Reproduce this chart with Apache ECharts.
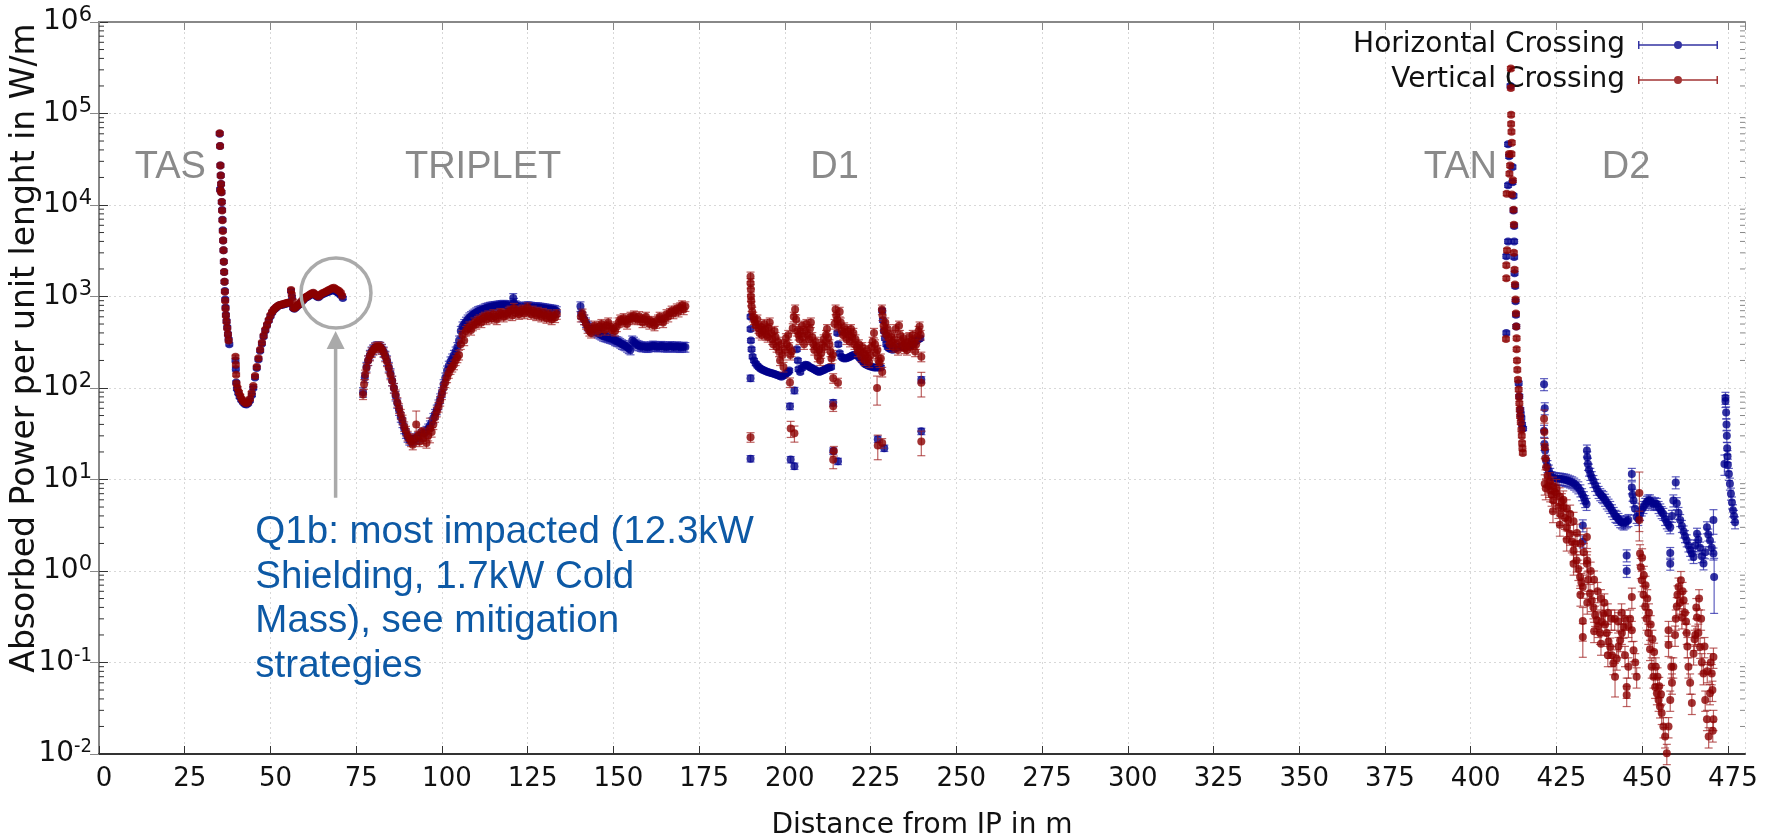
<!DOCTYPE html>
<html>
<head>
<meta charset="utf-8">
<title>Absorbed power per unit length</title>
<script src="https://cdn.jsdelivr.net/npm/echarts@6/dist/echarts.min.js"></script>
<style>
  html, body { margin: 0; padding: 0; background: #fff; }
  #main { width: 1775px; height: 839px; }
</style>
</head>
<body>
<div id="main"></div>
<script>
// ---- data: [distance m, W/m, (optional) relative error] ----

// Horizontal crossing
var hTas = [[35.2,60000],[35.3,44000],[35.4,27000],[35.5,21000],[35.6,17000],[35.3,14800],[35.7,13800],[35.8,10800],[35.9,8800],[36.0,6900],[36.1,5300],[36.2,4100],[36.3,3200],[36.4,2400],[36.5,1850],[36.6,1450],[36.7,1150],[36.8,930],[36.9,760],[37.0,630],[37.2,540],[37.4,460],[37.6,390],[37.8,340],[38.0,300]];
var hQ1 = [[39.8,200],[39.9,160],[40.0,115],[40.2,98],[40.6,88],[41.0,80],[41.5,74],[42.0,70],[42.5,67],[43.0,66],[43.5,68],[44.0,73],[44.6,84],[45.0,100],[45.5,130],[46.0,165],[46.5,205],[47.0,255],[47.5,305],[48.0,365],[48.5,425],[49.0,485],[49.5,545],[50.0,610],[50.5,670],[51.0,715],[51.5,745],[52.0,775],[52.5,795],[53.0,805],[53.5,815],[54.0,825],[54.5,835],[55.0,845],[55.5,855],[56.0,1150],[56.3,980],[56.6,750],[57.0,735],[57.5,765],[58.0,795],[58.5,825],[59.0,870],[59.5,910],[60.0,950],[60.5,980],[61.0,1000],[61.5,1030],[62.0,1060],[62.5,1080],[63.0,1040],[63.5,1000],[64.0,980],[64.5,1020],[65.0,1050],[65.5,1070],[66.0,1090],[66.5,1110],[67.0,1130],[67.5,1150],[68.0,1170],[68.5,1180],[69.0,1140],[69.5,1110],[70.0,1080],[70.5,1030],[71.1,960]];
var hTriplet = [[77.0,90],[77.5,130],[78.0,170],[78.5,200],[79.0,230],[79.5,250],[80.0,265],[80.5,278],[81.0,285],[81.5,286],[82.0,282],[82.5,268],[83.0,250],[83.5,225],[84.0,200],[84.5,170],[85.0,145],[85.5,120],[86.0,100],[86.5,82],[87.0,68],[87.5,57],[88.0,48],[88.5,42],[89.0,36],[89.5,32],[90.0,29],[90.5,27],[91.0,27],[91.5,27],[92.0,28],[92.5,28],[93.0,29],[93.5,30],[94.0,31],[94.5,32],[95.0,33],[95.5,34],[96.0,36],[96.5,39],[97.0,42],[97.5,47],[98.0,52],[98.5,58],[99.0,66],[99.5,77],[100.0,90],[100.5,110],[101.0,130],[101.5,155],[102.0,175],[102.5,195],[103.0,210],[103.5,230],[104.0,250],[104.5,280],[105.0,330],[105.5,420],[106.0,470],[106.5,500],[107.0,530],[107.5,560],[108.0,590],[108.5,610],[109.0,630],[109.5,650],[110.0,670],[110.5,690],[111.0,700],[111.5,710],[112.0,720],[112.5,740],[113.0,750],[113.5,760],[114.0,770],[114.5,775],[115.0,780],[115.5,785],[116.0,790],[116.5,795],[117.0,800],[117.5,805],[118.0,810],[118.5,805],[119.0,800],[119.5,795],[120.0,790],[120.8,960],[121.0,850],[121.5,800],[122.0,780],[122.5,770],[123.0,760],[123.5,765],[124.0,770],[124.5,775],[125.0,780],[125.5,775],[126.0,770],[126.5,765],[127.0,760],[127.5,760],[128.0,760],[128.5,755],[129.0,750],[129.5,745],[130.0,740],[130.5,735],[131.0,730],[131.5,725],[132.0,720],[132.5,715],[133.0,710],[133.5,690]];
var hMid = [[140.4,780],[140.6,650],[141.0,600],[141.5,560],[142.0,520],[142.5,480],[143.0,460],[143.5,440],[144.0,430],[144.5,420],[145.0,410],[145.5,400],[146.0,390],[146.5,380],[147.0,370],[147.5,365],[148.0,360],[148.5,355],[149.0,350],[149.5,345],[150.0,340],[150.5,330],[151.0,325],[151.5,320],[152.0,310],[152.5,300],[153.0,295],[153.5,290],[154.0,280],[154.5,270],[155.0,262],[155.5,330],[156.0,320],[156.5,305],[157.0,295],[157.5,290],[158.0,285],[158.5,282],[159.0,285],[159.5,280],[160.0,278],[160.5,282],[161.0,285],[161.5,290],[162.0,288],[162.5,285],[163.0,282],[163.5,285],[164.0,288],[164.5,285],[165.0,282],[165.5,280],[166.0,283],[166.5,286],[167.0,284],[167.5,280],[168.0,282],[168.5,285],[169.0,282],[169.5,278],[170.0,280],[170.5,283],[171.0,280]];
var hD1 = [[190.0,600],[190.0,440],[190.1,330],[190.3,265],[190.6,220],[191.0,200],[191.5,185],[192.0,175],[192.5,168],[193.0,162],[193.5,158],[194.0,155],[194.5,152],[195.0,150],[195.5,148],[196.0,146],[196.5,144],[197.0,142],[197.5,140],[198.0,138],[198.5,135],[199.0,133],[199.5,136],[200.0,140],[200.5,145],[201.0,150],[201.3,155],[203.5,265],[203.8,200],[204.0,160],[204.5,150],[205.0,165],[205.5,175],[206.0,180],[206.5,178],[207.0,172],[207.5,168],[208.0,164],[208.5,160],[209.0,156],[209.5,152],[210.0,150],[210.5,152],[211.0,155],[211.5,158],[212.0,162],[212.5,165],[213.0,168],[213.5,170],[215.3,400],[215.6,300],[216.0,240],[216.5,220],[217.0,212],[217.5,210],[218.0,212],[218.5,215],[219.0,220],[219.5,225],[220.0,230],[220.5,232],[221.0,230],[221.5,220],[222.0,210],[222.5,200],[223.0,190],[223.5,182],[224.0,178],[224.5,174],[225.0,172],[225.5,170],[226.0,168],[226.5,168],[227.0,167],[227.5,168],[228.0,168],[228.4,700],[228.6,550],[228.9,420],[229.2,350],[229.6,300],[230.0,280],[230.5,270],[231.0,265],[231.5,262],[232.0,268],[232.5,275],[233.0,280],[233.5,285],[234.0,282],[234.5,280],[235.0,285],[235.5,290],[236.0,285],[236.5,290],[237.0,300],[237.5,310],[238.0,320],[238.5,330],[239.0,340],[239.5,350]];
var hD1Out = [[190.0,128],[190.0,16.9],[201.5,63],[201.7,16.5],[202.8,94],[202.8,14],[214.1,69],[214.1,20.5],[215.5,15.8],[227.1,27.6],[229.0,22],[239.8,123],[239.8,33.6]];
var hTan = [[411.6,200000],[410.9,46000],[411.2,34000],[412.2,26000],[412.2,17700],[410.9,16400],[412.5,12600],[412.5,8700],[412.7,5900],[410.9,4000],[412.7,4000],[410.4,2750],[412.7,2700],[412.8,1800],[413.0,1300],[413.1,890],[413.2,630],[413.3,470],[410.4,400],[414.0,113],[414.2,81],[414.5,58],[414.6,52],[414.8,47],[415.0,40],[415.3,36]];
var hD2 = [[421.4,110],[421.6,60],[421.4,34],[421.5,24.5],[421.7,20.7],[422.0,16],[422.4,14],[422.8,12.5],[423.2,11.5],[423.6,10.6],[424.2,10.4],[424.8,10.3],[425.4,10.2],[426.0,10.2],[426.6,10.1],[427.2,10.0],[427.8,9.9],[428.4,9.7],[429.0,9.5],[429.6,9.3],[430.2,9.0],[430.8,8.6],[431.4,8.2],[432.0,7.6],[432.5,6.9],[433.0,6.4],[433.4,5.8],[433.8,5.4],
  [433.9,20.7],[434.0,17.5],[434.2,14.8],[434.5,12.8],[434.9,11.5],[435.3,10.6],[435.8,9.6],[436.3,8.7],[436.8,7.9],[437.3,7.3],[437.8,6.9],[438.3,6.6],[438.7,6.4],[439.2,6.0],[439.7,5.6],[440.2,5.3],[440.7,5.0],[441.2,4.6],[441.7,4.3],[442.2,4.0],[442.6,3.9],[443.1,3.7],[443.6,3.5],[444.1,3.4],[444.6,3.3],[445.1,3.4],[445.6,3.5],[446.0,3.6],
  [447.0,11.5],[447.0,8.2],[447.2,6.8],[447.5,5.9],[447.9,4.8],[448.4,3.9],[448.9,3.7],[449.4,4.2],[449.9,4.7],[450.4,5.0],[450.9,5.4],[451.4,5.7],[451.8,5.9],[452.3,5.9],[452.8,5.6],[453.3,5.4],[453.8,5.5],[454.3,5.4],[454.8,5.0],[455.3,4.7],[455.7,4.4],[456.2,4.2],[456.7,3.7],[457.2,3.4],[457.7,3.2],[458.2,3.0],[458.7,4.0],[459.1,5.9],[459.8,9.3],[460.1,5.5],[460.6,4.3],[461.1,3.6],[461.6,3.1],[462.1,2.7],[462.5,2.4],[463.0,2.16],[463.5,1.9],[464.0,1.7],[464.5,1.55],[465.0,1.42],[465.5,1.9],[466.0,2.55],[466.4,2.2],[466.9,1.8],[467.4,1.45],[467.9,1.21],[468.4,1.6],[468.9,3.0],[469.3,2.5],[469.8,2.16],[470.3,1.8],[470.8,1.55],[470.8,3.6,0.3],[471.0,0.86,0.6],
  [474.3,78],[474.3,72],[474.5,54],[474.6,40],[474.7,30],[474.8,22],[474.9,18],[474.0,14.8,0.25],[475.0,14.5],[475.3,11.5],[475.6,9],[475.9,7],[476.2,5.6],[476.5,4.6],[476.8,4.0],[477.1,3.4]];
var hD2Out = [[432.7,3.15],[432.7,2.1],[445.5,1.48],[445.5,1.0],[458.2,1.57],[458.2,1.2]];

// Vertical crossing
var vTas = [[35.2,61000],[35.3,44000],[35.4,27000],[35.5,21000],[35.6,17000],[35.4,14500],[35.7,13800],[35.8,10800],[35.9,8700],[36.0,6800],[36.1,5200],[36.2,4100],[36.3,3200],[36.4,2400],[36.5,1850],[36.6,1450],[36.7,1130],[36.8,900],[36.9,740],[37.0,620],[37.2,530],[37.4,450],[37.6,385],[37.8,330]];
var vQ1 = [[39.8,220],[39.9,180],[40.0,140],[40.1,112],[40.4,100],[40.8,90],[41.2,82],[41.6,76],[42.0,72],[42.5,69],[43.0,68],[43.5,70],[44.0,76],[44.5,88],[45.0,105],[45.5,135],[46.0,170],[46.5,212],[47.0,262],[47.5,312],[48.0,372],[48.5,432],[49.0,492],[49.5,552],[50.0,622],[50.5,680],[51.0,722],[51.5,752],[52.0,782],[52.5,800],[53.0,812],[53.5,822],[54.0,832],[54.5,842],[55.0,852],[55.5,862],[56.0,1180],[56.2,1050],[56.5,900],[56.7,760],[57.0,742],[57.5,772],[58.0,802],[58.5,832],[59.0,882],[59.5,922],[60.0,962],[60.5,992],[61.0,1020],[61.5,1050],[62.0,1080],[62.5,1100],[63.0,1060],[63.5,1020],[64.0,1000],[64.5,1040],[65.0,1080],[65.5,1100],[66.0,1120],[66.5,1150],[67.0,1180],[67.5,1200],[68.0,1230],[68.5,1250],[69.0,1210],[69.5,1180],[70.0,1150],[70.5,1100],[70.9,1020]];
var vTriplet = [[77.0,85],[77.3,110],[77.6,140],[78.0,165],[78.5,200],[79.0,225],[79.5,245],[80.0,260],[80.5,275],[81.0,280],[81.5,285],[82.0,280],[82.5,265],[83.0,245],[83.5,220],[84.0,195],[84.5,165],[85.0,140],[85.5,120],[86.0,100],[86.5,85],[87.0,70],[87.5,60],[88.0,52],[88.5,45],[89.0,38],[89.5,34],[90.0,30],[90.5,28],[91.0,26],[91.5,24],[92.0,28],[92.5,40,0.4],[93.0,30],[93.5,26],[94.0,33],[94.5,28],[95.0,32],[95.5,25],[96.0,30],[96.5,36,0.3],[97.0,33],[97.5,40],[98.0,48],[98.5,55],[99.0,62],[99.5,72],[100.0,85],[100.5,100],[101.0,115],[101.5,130],[102.0,145],[102.5,160],[103.0,170],[103.5,180],[104.0,200],[104.5,215],[105.0,230],[105.5,300],[106.0,380],[106.5,330],[107.0,420],[107.5,440],[108.0,470],[108.5,430],[109.0,480],[109.5,520],[110.0,500],[110.5,540],[111.0,560],[111.5,520],[112.0,580],[112.5,600],[113.0,560],[113.5,620],[114.0,600],[114.5,580],[115.0,640],[115.5,610],[116.0,560],[116.5,620],[117.0,660],[117.5,640],[118.0,600],[118.5,650],[119.0,630],[119.5,680],[120.0,700],[120.5,620],[121.0,750],[121.5,660],[122.0,700],[122.5,640],[123.0,680],[123.5,720],[124.0,650],[124.5,700],[125.0,760],[125.5,680],[126.0,640],[126.5,700],[127.0,660],[127.5,620],[128.0,680],[128.5,640],[129.0,600],[129.5,660],[130.0,620],[130.5,580],[131.0,640],[131.5,600],[132.0,560],[132.5,620],[133.0,590],[133.5,640]];
var vMid = [[140.5,600],[141.0,650],[141.5,560],[142.0,500],[142.5,450],[143.0,420],[143.5,400],[144.0,440],[144.5,480],[145.0,450],[145.5,420],[146.0,470],[146.5,500],[147.0,460],[147.5,430],[148.0,480],[148.5,520],[149.0,470],[149.5,430],[150.0,450],[150.5,420],[151.0,470],[151.5,520],[152.0,560],[152.5,530],[153.0,580],[153.5,540],[154.0,500],[154.5,560],[155.0,600],[155.5,570],[156.0,620],[156.5,580],[157.0,560],[157.5,610],[158.0,560],[158.5,520],[159.0,560],[159.5,600],[160.0,540],[160.5,500],[161.0,540],[161.5,520],[162.0,480],[162.5,510],[163.0,560],[163.5,600],[164.0,560],[164.5,520],[165.0,580],[165.5,640],[166.0,600],[166.5,660],[167.0,700],[167.5,650],[168.0,700],[168.5,740],[169.0,680],[169.5,760],[170.0,800],[170.5,720],[171.0,780]];
var vD1 = [[190.0,1650],[190.0,1400],[190.1,1200],[190.1,1000],[190.2,900],[190.3,780],[190.5,680],[190.8,600],[191.0,560],[191.3,520],[191.6,480],[192.0,560],[192.3,450],[192.6,400],[193.0,470],[193.3,380],[193.6,420],[194.0,500],[194.3,440],[194.6,380],[195.0,360],[195.3,450],[195.6,520],[196.0,400],[196.3,340],[196.6,300],[197.0,420],[197.3,360],[197.6,280],[198.0,320],[198.3,250],[198.6,200],[199.0,300],[199.3,230],[199.6,170],[200.0,260],[200.3,350],[200.6,300],[201.0,380],[201.3,280],[201.6,230],[202.0,250],[202.3,450],[202.6,600],[203.0,720],[203.3,560],[203.6,420],[204.0,380],[204.3,340],[204.6,420],[205.0,480],[205.3,360],[205.6,300],[206.0,420],[206.3,500],[206.6,380],[207.0,340],[207.3,440],[207.6,520],[208.0,360],[208.3,300],[208.6,260],[209.0,320],[209.3,280],[209.6,220],[210.0,260],[210.3,200],[210.6,240],[211.0,300],[211.3,340],[211.6,280],[212.0,380],[212.3,440],[212.6,350],[213.0,300],[213.3,250],[213.6,210],[214.0,230],[214.5,500],[214.8,720],[215.0,620],[215.3,560],[215.6,480],[216.0,680],[216.3,520],[216.6,420],[217.0,380],[217.3,460],[217.6,400],[218.0,340],[218.3,420],[218.6,380],[219.0,320],[219.3,440],[219.6,360],[220.0,400],[220.3,300],[220.6,340],[221.0,280],[221.3,250],[221.6,300],[222.0,260],[222.3,220],[222.6,280],[223.0,240],[223.3,200],[223.6,230],[224.0,260],[224.3,210],[224.6,190],[225.0,230],[225.3,280],[225.6,320],[226.0,400],[226.3,300],[226.6,240],[227.0,260],[227.3,200],[227.6,190],[228.0,210],[228.3,720],[228.5,620],[228.8,480],[229.0,420],[229.3,520],[229.6,380],[230.0,440],[230.3,350],[230.6,300],[231.0,380],[231.3,320],[231.6,280],[232.0,340],[232.3,440],[232.6,300],[233.0,260],[233.3,480],[233.6,380],[234.0,320],[234.3,290],[234.6,350],[235.0,270],[235.3,310],[235.6,260],[236.0,300],[236.3,360],[236.6,280],[237.0,330],[237.3,380],[237.6,300],[238.0,250],[238.3,300],[238.6,360],[239.0,420],[239.3,470],[239.6,380],[239.8,220]];
var vD1Out = [[190.0,29],[201.5,115],[201.7,36,0.2],[202.8,32,0.2],[214.1,63],[214.1,128],[215.5,114],[214.1,16.4,0.2],[214.3,20.5],[226.9,100,0.35],[227.1,23.5,0.3],[228.4,25],[228.4,150],[239.8,114,0.3],[239.8,26,0.3]];
var vTan = [[411.7,310000],[411.7,190000],[411.8,97000],[411.8,77000],[411.9,63000],[412.0,48000],[411.2,36000],[411.9,36000],[411.5,27000],[411.3,22000],[412.3,18600],[410.5,13300],[412.0,13000],[412.5,8900],[412.6,6100],[410.6,3200],[412.6,3000],[410.4,2200],[412.8,1960],[410.4,1580],[412.9,1350],[413.1,930],[413.2,650],[413.3,470],[410.3,343],[413.4,350],[413.4,265],[413.5,200],[413.6,158],[413.8,123],[414.0,96],[414.1,80],[414.2,68],[414.3,58],[414.4,49],[414.6,42],[414.8,35],[414.9,30],[415.0,25],[415.1,22],[415.2,19.5]];
var vD2 = [[421.4,46],[421.5,33],[421.6,22.5],[421.8,17],[422.0,13.6],[421.6,9],[421.9,8],[422.4,11],[422.8,8.5],[423.0,9.5],[423.2,7.6],[423.6,6.8],[424.0,8.5],[424.0,4.5],[424.1,5.9],[424.6,7.3],[425.0,8.0],[425.1,7.0],[425.6,5.0],[426.0,6.5],[426.0,3.2],[426.1,4.2],[426.6,5.6],[427.0,5.0],[427.0,6.0],[427.5,3.8],[428.0,3.0],[428.0,4.8],[428.0,2.2],[428.5,3.6],[429.0,2.55],[429.0,4.2],[429.5,2.1],[430.0,1.68],[430.0,3.5],[430.0,1.2],[430.5,2.0],[430.9,1.3],[431.0,2.6],[431.4,1.05],[431.9,0.86],[432.0,2.0],[432.0,0.55],[432.3,0.75],[432.7,0.67],[432.7,0.285,0.4],[432.7,0.19,0.4],[433.0,1.6],[433.9,2.35],[433.9,1.2],[434.0,1.3],[434.0,0.45],[434.3,0.8],[434.8,0.57],[435.0,1.0],[435.3,0.48],[435.8,0.40],[436.0,0.8],[436.0,0.22],[436.3,0.33],[436.8,0.29],[437.0,0.6],[437.2,0.25],[437.7,0.21],[438.0,0.5],[438.0,0.16],[438.2,0.28],[438.7,0.34],[439.0,0.45],[439.2,0.26],[439.7,0.21],[440.0,0.35],[440.0,0.12],[440.2,0.17],[440.7,0.148],[441.0,0.3],[441.2,0.12],[441.6,0.098],[442.0,0.3],[442.1,0.07,0.4],[442.6,0.11],[443.0,0.28],[443.1,0.15],[443.6,0.175],[444.0,0.35],[444.1,0.21],[444.6,0.245],[445.0,0.12],[445.0,0.3],[445.5,0.054],[445.5,0.044],[446.0,0.09],[446.0,0.25],[446.5,0.3],[447.0,0.52],[447.0,0.225],[447.5,0.136],[448.0,0.1],[448.4,0.07],
  [449.2,7.1,0.7],[449.2,3.6],[449.4,1.55],[449.6,1.1],[449.9,0.79],[450.0,1.4],[450.4,0.55],[450.5,0.9],[450.9,0.41],[451.0,0.7],[451.3,0.3],[451.5,0.5],[451.8,0.21],[452.0,0.35],[452.3,0.14],[452.5,0.26],[452.8,0.09],[453.0,0.18],[453.3,0.07],[453.5,0.13],[453.8,0.054],[454.0,0.09],[454.3,0.046],[454.5,0.07],[454.8,0.039],[455.0,0.055],[455.2,0.033],[455.5,0.045],[455.7,0.028],[456.2,0.02],[456.7,0.0155],[457.2,0.0102],[457.7,0.02],[457.7,0.155],[457.7,0.225],[458.2,0.039],[458.5,0.09],[458.7,0.06],[459.1,0.09],[459.6,0.2],[459.8,0.3],[460.1,0.41],[460.3,0.55],[460.6,0.67],[461.0,0.45],[461.3,0.79],[461.6,0.31],[461.8,0.6],[462.1,0.48],[462.5,0.35],[462.8,0.28],[463.0,0.21],[463.5,0.09],[463.2,0.15],[464.0,0.06],[464.5,0.036],[465.0,0.125],[465.3,0.18],[465.5,0.2],[465.8,0.4],[466.0,0.31],[466.4,0.21],[466.6,0.5],[466.9,0.148],[467.2,0.3],[467.4,0.1],[467.9,0.076],[468.2,0.15],[468.4,0.039],[468.9,0.024],[469.0,0.08],[469.4,0.0155],[469.8,0.046],[470.0,0.1],[470.3,0.076],[470.5,0.05],[470.8,0.024],[470.8,0.115],[470.6,0.018]];

// typical relative errors per group
var errTas = 0.04, errTriplet = 0.12, errD1 = 0.12, errTan = 0.05, errD2h = 0.15, errD2v = 0.25;

// annotation texts
var regionNames = ['TAS', 'TRIPLET', 'D1', 'TAN', 'D2'];
var regionX = [20.8, 112.0, 214.5, 397.0, 445.3];
var regionY = 2.6e4;
var noteText = 'Q1b: most impacted (12.3kW\nShielding, 1.7kW Cold\nMass), see mitigation\nstrategies';
var notePos = [45.6, 4.6];
var circlePos = [69.1, 1090];
var arrowFrom = [69.0, 6.3], arrowTo = [69.0, 420];

// axes
var xMin = 0, xMax = 480, xStep = 25;
var yMin = 0.01, yMax = 1e6;
var minorMult = [2, 3, 4, 5, 6, 7, 8, 9];
var decades = [0.01, 0.1, 1, 10, 100, 1000, 1e4, 1e5];

function withErr(list, e) {
  return list.map(function (p) { return [p[0], p[1], p.length > 2 ? p[2] : e]; });
}
var hData = [].concat(withErr(hTas, errTas), withErr(hQ1, errTas), withErr(hTriplet, errTriplet),
  withErr(hMid, errTriplet), withErr(hD1, 0.05), withErr(hD1Out, 0.08), withErr(hTan, errTan),
  withErr(hD2, errD2h), withErr(hD2Out, 0.15));
var vData = [].concat(withErr(vTas, errTas), withErr(vQ1, errTas), withErr(vTriplet, errTriplet),
  withErr(vMid, errTriplet), withErr(vD1, errD1), withErr(vD1Out, 0.12), withErr(vTan, errTan),
  withErr(vD2, errD2v));

var minorTicks = [];
decades.forEach(function (d) { minorMult.forEach(function (m) { minorTicks.push(m * d); }); });

var chart = echarts.init(document.getElementById('main'), null, { renderer: 'canvas' });

function errorBars(color) {
  return function (params, api) {
    var x = api.value(0), y = api.value(1), e = api.value(2);
    var lo = api.coord([x, y * (1 - e)]);
    var hi = api.coord([x, y * (1 + e)]);
    var st = { stroke: color, lineWidth: 1.2 };
    return {
      type: 'group',
      children: [
        { type: 'line', shape: { x1: lo[0], y1: lo[1], x2: hi[0], y2: hi[1] }, style: st },
        { type: 'line', shape: { x1: lo[0] - 4, y1: lo[1], x2: lo[0] + 4, y2: lo[1] }, style: st },
        { type: 'line', shape: { x1: hi[0] - 4, y1: hi[1], x2: hi[0] + 4, y2: hi[1] }, style: st }
      ]
    };
  };
}

var legendIcon = 'path://M0,5.3L80,5.3L80,6.7L0,6.7Z M0,2L1.5,2L1.5,10L0,10Z M78.5,2L80,2L80,10L78.5,10Z M44,6A4,4 0 1 1 36,6A4,4 0 1 1 44,6Z';

var option = {
  backgroundColor: '#fff',
  animation: false,
  grid: { left: 99, right: 30, top: 22, bottom: 85, outerBoundsMode: 'none', containLabel: false },
  legend: {
    data: ['Horizontal Crossing', 'Vertical Crossing'],
    orient: 'vertical',
    align: 'right',
    right: 52,
    top: 26,
    itemWidth: 80,
    itemHeight: 12,
    itemGap: 7,
    icon: legendIcon,
    textStyle: { fontFamily: 'DejaVu Sans', fontSize: 28, color: '#111', padding: [0, 8, 0, 0] }
  },
  xAxis: [{
    type: 'value', min: xMin, max: xMax, interval: xStep,
    name: 'Distance from IP in m', nameLocation: 'middle', nameGap: 58, nameMoveOverlap: false,
    nameTextStyle: { fontFamily: 'DejaVu Sans', fontSize: 28, color: '#111' },
    axisLine: { lineStyle: { color: '#333', width: 2 } },
    axisTick: { inside: true, length: 8, lineStyle: { color: '#333' } },
    axisLabel: { fontFamily: 'DejaVu Sans', fontSize: 26, color: '#111', margin: 12, showMaxLabel: false, padding: [0, 0, 0, 10] },
    splitLine: { show: true, lineStyle: { color: '#d8d8d8', type: [2, 3], width: 1 } }
  }, {
    type: 'value', min: xMin, max: xMax, interval: xStep, position: 'top',
    axisLine: { lineStyle: { color: '#888', width: 2 } },
    axisTick: { inside: true, length: 8, lineStyle: { color: '#888' } },
    axisLabel: { show: false }, splitLine: { show: false }
  }],
  yAxis: [{
    type: 'log', logBase: 10, min: yMin, max: yMax, splitNumber: 8,
    name: 'Absorbed Power per unit lenght in W/m', nameLocation: 'middle', nameRotate: 90, nameGap: 57, nameMoveOverlap: false,
    nameTextStyle: { fontFamily: 'DejaVu Sans', fontSize: 33, color: '#111', padding: [0, 0, 0, 80] },
    axisLine: { lineStyle: { color: '#333', width: 2 } },
    axisTick: { inside: true, length: 9, lineStyle: { color: '#333' } },
    axisLabel: {
      margin: 7,
      formatter: function (v) {
        var ex = Math.round(Math.log10(v));
        return '{b|10}{' + (ex < 0 ? 'n' : 's') + '|' + ex + '}';
      },
      rich: {
        b: { fontFamily: 'DejaVu Sans', fontSize: 28, color: '#111', lineHeight: 34 },
        s: { fontFamily: 'DejaVu Sans', fontSize: 21, color: '#111', lineHeight: 21, verticalAlign: 'top' },
        n: { fontFamily: 'DejaVu Sans Condensed, DejaVu Sans', fontSize: 20, color: '#111', lineHeight: 21, verticalAlign: 'top' }
      }
    },
    splitLine: { show: true, lineStyle: { color: '#d8d8d8', type: [2, 3], width: 1 } }
  }, {
    type: 'log', logBase: 10, min: yMin, max: yMax, splitNumber: 8, position: 'right',
    axisLine: { lineStyle: { color: '#888', width: 2 } },
    axisTick: { inside: true, length: 9, lineStyle: { color: '#888' } },
    axisLabel: { show: false }, splitLine: { show: false }
  }],
  series: [
    {
      name: 'minor', type: 'custom', silent: true, z: 1,
      data: minorTicks,
      renderItem: function (params, api) {
        var cs = params.coordSys;
        var p = api.coord([0, api.value(0)]);
        var l = cs.x, r = cs.x + cs.width;
        return {
          type: 'group', children: [
            { type: 'line', shape: { x1: l, y1: p[1], x2: l + 5, y2: p[1] }, style: { stroke: '#333', lineWidth: 1 } },
            { type: 'line', shape: { x1: r - 5, y1: p[1], x2: r, y2: p[1] }, style: { stroke: '#888', lineWidth: 1 } }
          ]
        };
      },
      encode: { y: 0 }
    },
    {
      name: 'hErr', type: 'custom', z: 2, data: hData,
      renderItem: errorBars('rgba(40,40,170,0.75)'), encode: { x: 0, y: 1 }
    },
    {
      name: 'Horizontal Crossing', type: 'scatter', z: 3, data: hData,
      symbol: 'circle', symbolSize: 8,
      itemStyle: { color: '#00008b' }
    },
    {
      name: 'vErr', type: 'custom', z: 4, data: vData,
      renderItem: errorBars('rgba(160,30,30,0.7)'), encode: { x: 0, y: 1 }
    },
    {
      name: 'Vertical Crossing', type: 'scatter', z: 5, data: vData,
      symbol: 'circle', symbolSize: 8,
      itemStyle: { color: '#8b0000' }
    },
    {
      name: 'regions', type: 'custom', z: 6, silent: true,
      data: regionX.map(function (x, i) { return [x, regionY, i]; }),
      renderItem: function (params, api) {
        var p = api.coord([api.value(0), api.value(1)]);
        return {
          type: 'text', x: p[0], y: p[1],
          style: {
            text: regionNames[api.value(2)], fill: '#8a8a8a',
            font: '38px "Liberation Sans", Arial, sans-serif',
            align: 'center', verticalAlign: 'middle'
          }
        };
      },
      encode: { x: 0, y: 1 }
    },
    {
      name: 'note', type: 'custom', z: 7, silent: true,
      data: [[circlePos[0], circlePos[1]]],
      renderItem: function (params, api) {
        var c = api.coord(circlePos);
        var a0 = api.coord(arrowFrom);
        var a1 = api.coord(arrowTo);
        var t = api.coord(notePos);
        return {
          type: 'group', children: [
            { type: 'circle', shape: { cx: c[0], cy: c[1], r: 35 }, style: { fill: 'none', stroke: '#aaaaaa', lineWidth: 3.5 } },
            { type: 'line', shape: { x1: a0[0], y1: a0[1], x2: a1[0], y2: a1[1] + 16 }, style: { stroke: '#aaaaaa', lineWidth: 3.5 } },
            { type: 'polygon', shape: { points: [[a1[0], a1[1]], [a1[0] - 9, a1[1] + 18], [a1[0] + 9, a1[1] + 18]] }, style: { fill: '#aaaaaa' } },
            {
              type: 'text', x: t[0], y: t[1],
              style: {
                text: noteText, fill: '#0d59a5',
                font: '38.5px "Liberation Sans", Arial, sans-serif',
                lineHeight: 44.5, align: 'left', verticalAlign: 'top'
              }
            }
          ]
        };
      },
      encode: { x: 0, y: 1 }
    }
  ]
};

chart.setOption(option);
</script>
</body>
</html>
